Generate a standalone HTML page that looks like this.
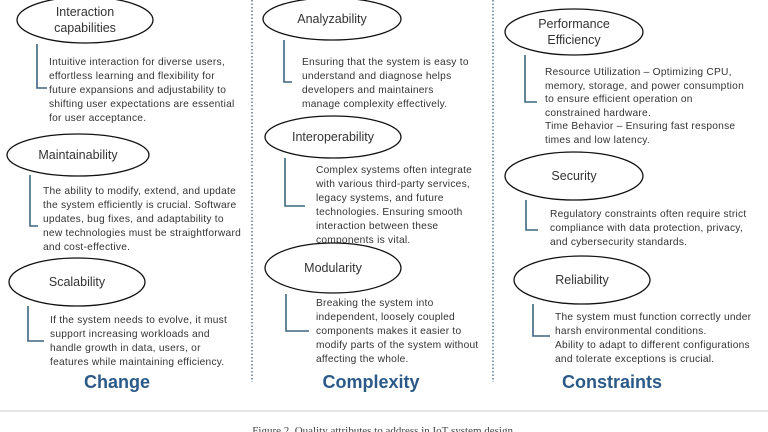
<!DOCTYPE html>
<html><head><meta charset="utf-8"><style>
html,body{margin:0;padding:0;background:#fff}
svg{display:block}
.t{font-family:"Liberation Sans",sans-serif;font-size:10.2px;letter-spacing:0.25px;fill:#333}
.h{font-family:"Liberation Sans",sans-serif;font-size:12.5px;fill:#333;text-anchor:middle}
.c{font-family:"Liberation Sans",sans-serif;font-size:18px;font-weight:bold;fill:#2b5a88;text-anchor:middle}
.e{fill:#fff;stroke:#111;stroke-width:1.3}
.b{fill:none;stroke:#3d6580;stroke-width:1.6}
.d{stroke:#5a7a90;stroke-width:1.5;stroke-dasharray:1.5 2}
</style></head><body>
<svg width="768" height="432" viewBox="0 0 768 432" xmlns="http://www.w3.org/2000/svg">
<line class="d" x1="252" y1="0" x2="252" y2="382"/>
<line class="d" x1="493" y1="0" x2="493" y2="382"/>

<!-- Column 1 -->
<path class="b" d="M37 44 V88 H47"/>
<ellipse class="e" cx="85" cy="20" rx="68" ry="23"/>
<text class="h" x="85" y="16">Interaction</text>
<text class="h" x="85" y="32">capabilities</text>
<text class="t" x="49" y="65">Intuitive interaction for diverse users,</text>
<text class="t" x="49" y="79">effortless learning and flexibility for</text>
<text class="t" x="49" y="93">future expansions and adjustability to</text>
<text class="t" x="49" y="107">shifting user expectations are essential</text>
<text class="t" x="49" y="121">for user acceptance.</text>

<path class="b" d="M30 175 V226 H38"/>
<ellipse class="e" cx="78" cy="155" rx="71" ry="21"/>
<text class="h" x="78" y="159">Maintainability</text>
<text class="t" x="43" y="194">The ability to modify, extend, and update</text>
<text class="t" x="43" y="208">the system efficiently is crucial. Software</text>
<text class="t" x="43" y="222">updates, bug fixes, and adaptability to</text>
<text class="t" x="43" y="236">new technologies must be straightforward</text>
<text class="t" x="43" y="250">and cost-effective.</text>

<path class="b" d="M28 306 V341 H44"/>
<ellipse class="e" cx="77" cy="282" rx="68" ry="24"/>
<text class="h" x="77" y="286">Scalability</text>
<text class="t" x="50" y="323">If the system needs to evolve, it must</text>
<text class="t" x="50" y="337">support increasing workloads and</text>
<text class="t" x="50" y="351">handle growth in data, users, or</text>
<text class="t" x="50" y="365">features while maintaining efficiency.</text>
<text class="c" x="117" y="388">Change</text>

<!-- Column 2 -->
<path class="b" d="M284 40 V82 H292"/>
<ellipse class="e" cx="332" cy="19" rx="69" ry="21"/>
<text class="h" x="332" y="23">Analyzability</text>
<text class="t" x="302" y="65">Ensuring that the system is easy to</text>
<text class="t" x="302" y="79">understand and diagnose helps</text>
<text class="t" x="302" y="93">developers and maintainers</text>
<text class="t" x="302" y="107">manage complexity effectively.</text>

<path class="b" d="M285 158 V206 H305"/>
<ellipse class="e" cx="333" cy="137" rx="68" ry="21"/>
<text class="h" x="333" y="141">Interoperability</text>
<text class="t" x="316" y="173">Complex systems often integrate</text>
<text class="t" x="316" y="187">with various third-party services,</text>
<text class="t" x="316" y="201">legacy systems, and future</text>
<text class="t" x="316" y="215">technologies. Ensuring smooth</text>
<text class="t" x="316" y="229">interaction between these</text>
<text class="t" x="316" y="243">components is vital.</text>

<path class="b" d="M286 294 V331 H309"/>
<ellipse class="e" cx="333" cy="268" rx="68" ry="25"/>
<text class="h" x="333" y="272">Modularity</text>
<text class="t" x="316" y="306">Breaking the system into</text>
<text class="t" x="316" y="320">independent, loosely coupled</text>
<text class="t" x="316" y="334">components makes it easier to</text>
<text class="t" x="316" y="348">modify parts of the system without</text>
<text class="t" x="316" y="362">affecting the whole.</text>
<text class="c" x="371" y="388">Complexity</text>

<!-- Column 3 -->
<path class="b" d="M525 55 V102 H537"/>
<ellipse class="e" cx="574" cy="32" rx="69" ry="23"/>
<text class="h" x="574" y="28">Performance</text>
<text class="h" x="574" y="44">Efficiency</text>
<text class="t" x="545" y="75">Resource Utilization – Optimizing CPU,</text>
<text class="t" x="545" y="89">memory, storage, and power consumption</text>
<text class="t" x="545" y="102">to ensure efficient operation on</text>
<text class="t" x="545" y="116">constrained hardware.</text>
<text class="t" x="545" y="129">Time Behavior – Ensuring fast response</text>
<text class="t" x="545" y="143">times and low latency.</text>

<path class="b" d="M526 200 V230 H538"/>
<ellipse class="e" cx="574" cy="176" rx="69" ry="24"/>
<text class="h" x="574" y="180">Security</text>
<text class="t" x="550" y="217">Regulatory constraints often require strict</text>
<text class="t" x="550" y="231">compliance with data protection, privacy,</text>
<text class="t" x="550" y="245">and cybersecurity standards.</text>

<path class="b" d="M533 304 V336 H550"/>
<ellipse class="e" cx="582" cy="280" rx="68" ry="24"/>
<text class="h" x="582" y="284">Reliability</text>
<text class="t" x="555" y="320">The system must function correctly under</text>
<text class="t" x="555" y="334">harsh environmental conditions.</text>
<text class="t" x="555" y="348">Ability to adapt to different configurations</text>
<text class="t" x="555" y="362">and tolerate exceptions is crucial.</text>
<text class="c" x="612" y="388">Constraints</text>

<line x1="0" y1="411" x2="768" y2="411" stroke="#ddd" stroke-width="1.5"/>
<text x="384" y="434" text-anchor="middle" style="font-family:'Liberation Serif',serif;font-size:11px;fill:#444">Figure 2. Quality attributes to address in IoT system design.</text>
</svg>
</body></html>
